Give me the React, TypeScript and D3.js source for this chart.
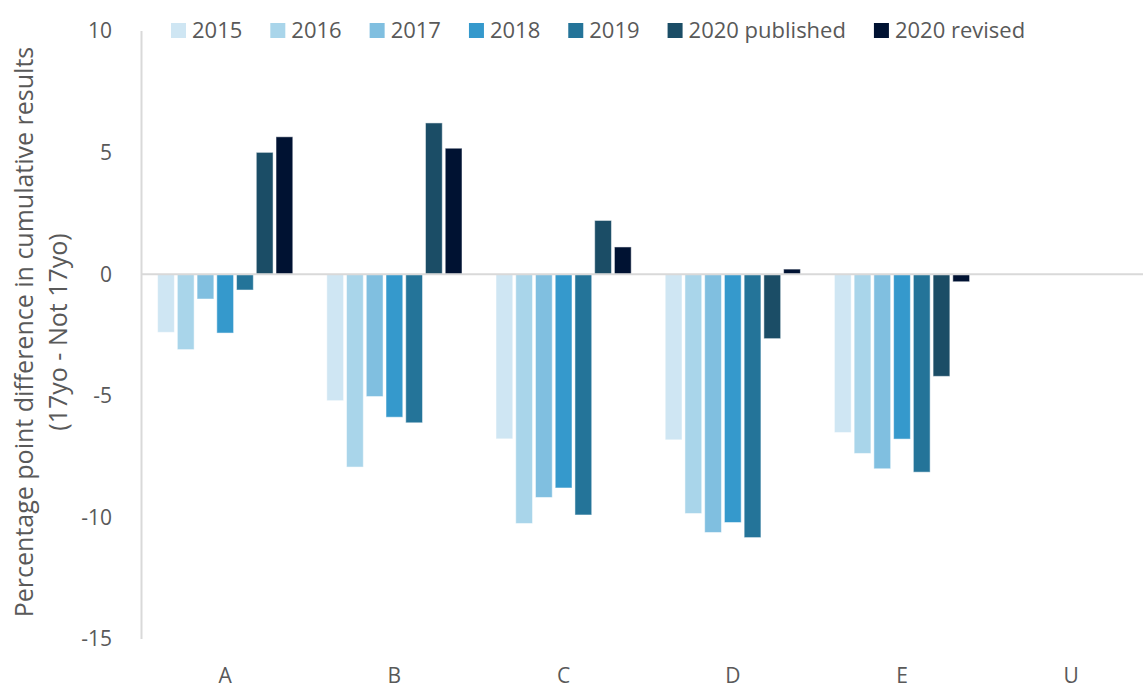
import React from 'react';
import * as d3 from 'd3';

// Categories and series
const categories = ['A', 'B', 'C', 'D', 'E', 'U'];
const seriesNames = ['2015', '2016', '2017', '2018', '2019', '2020 published', '2020 revised'];
const seriesColors = ['#cfe6f3', '#a9d5ea', '#80bfe0', '#3599cc', '#247499', '#1b4d66', '#001232'];

// Percentage point difference per category (U has no data)
const v2015 = [-2.39, -5.2, -6.77, -6.81, -6.51, null];
const v2016 = [-3.1, -7.93, -10.25, -9.84, -7.37, null];
const v2017 = [-1.02, -5.03, -9.18, -10.62, -8.0, null];
const v2018 = [-2.42, -5.88, -8.79, -10.21, -6.78, null];
const v2019 = [-0.65, -6.11, -9.9, -10.83, -8.14, null];
const v2020p = [5.01, 6.22, 2.21, -2.65, -4.2, null];
const v2020r = [5.65, 5.18, 1.12, 0.21, -0.31, null];
const seriesValues = [v2015, v2016, v2017, v2018, v2019, v2020p, v2020r];

const yTicks = [10, 5, 0, -5, -10, -15];

const W = 1143;
const H = 686;
const FONT = '"Open Sans", "Segoe UI", sans-serif';
const TEXT = '#595959';
const GRID = '#d9d9d9';

const measure = (txt: string, size: number) => {
  const ctx = document.createElement('canvas').getContext('2d');
  if (!ctx) return txt.length * size * 0.55;
  ctx.font = `${size}px "Open Sans"`;
  return ctx.measureText(txt).width;
};

const App = () => {
  const y = d3.scaleLinear().domain([-15, 10]).range([639, 31]);
  const x0 = d3.scaleBand<string>().domain(categories).range([140.6, 1155.8]);
  const x1 = d3.scaleBand<string>()
    .domain(seriesNames)
    .range([17, x0.bandwidth() - 17])
    .paddingInner(0.15);

  // legend layout: square, gap, label, gap
  let lx = 171;
  const legend = seriesNames.map((name, i) => {
    const item = { name, color: seriesColors[i], x: lx };
    lx += 21 + measure(name, 22) + 28;
    return item;
  });

  return (
    <svg width={W} height={H} style={{ position: 'absolute', left: 0, top: 0 }} fontFamily={FONT}>
      <rect width={W} height={H} fill="#fff" />

      {/* y axis line */}
      <line x1={141.5} x2={141.5} y1={y(10)} y2={y(-15)} stroke={GRID} strokeWidth={2} />

      {/* y ticks */}
      {yTicks.map((t) => (
        <text key={t} x={112} y={y(t)} dy="0.35em" textAnchor="end" fontSize={21} fill={TEXT}>
          {t}
        </text>
      ))}

      {/* bars */}
      {seriesNames.map((s, si) =>
        categories.map((c, ci) => {
          const v = seriesValues[si][ci];
          if (v === null || v === undefined) return null;
          const bx = (x0(c) ?? 0) + (x1(s) ?? 0);
          return (
            <rect
              key={s + c}
              x={bx}
              y={y(Math.max(0, v))}
              width={x1.bandwidth()}
              height={Math.abs(y(v) - y(0))}
              fill={seriesColors[si]}
              stroke="#ffffff"
              strokeOpacity={0.5}
              strokeWidth={1}
            />
          );
        })
      )}

      {/* zero line */}
      <line x1={141} x2={W} y1={y(0)} y2={y(0)} stroke={GRID} strokeWidth={2} />

      {/* x labels */}
      {categories.map((c) => (
        <text key={c} x={(x0(c) ?? 0) + x0.bandwidth() / 2} y={683} textAnchor="middle" fontSize={21} fill={TEXT}>
          {c}
        </text>
      ))}

      {/* y axis title */}
      <g transform="rotate(-90)" fontSize={25} fill={TEXT} textAnchor="middle">
        <text x={-332} y={33}>Percentage point difference in cumulative results</text>
        <text x={-332} y={67}>(17yo - Not 17yo)</text>
      </g>

      {/* legend */}
      {legend.map((d) => (
        <g key={d.name}>
          <rect x={d.x} y={23} width={15} height={15} fill={d.color} />
          <text x={d.x + 21} y={38} fontSize={22} fill={TEXT}>
            {d.name}
          </text>
        </g>
      ))}
    </svg>
  );
};

export default App;
